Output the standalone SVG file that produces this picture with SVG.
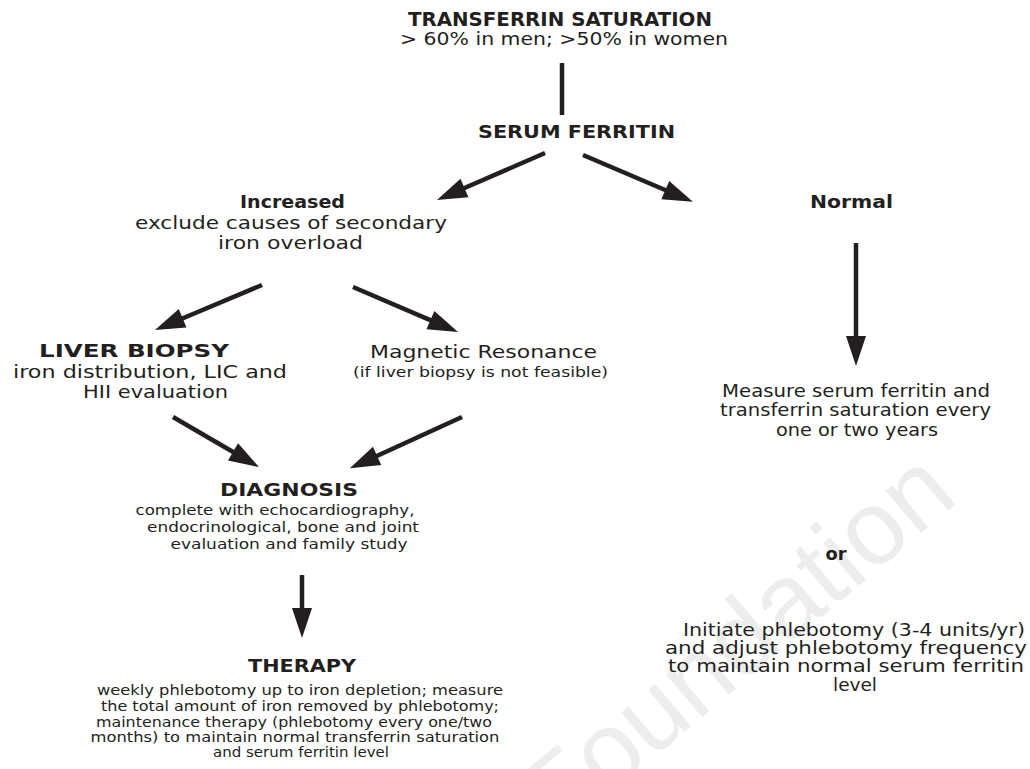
<svg xmlns="http://www.w3.org/2000/svg" width="1030" height="769" viewBox="0 0 1030 769">
<style>
text{font-family:"DejaVu Sans","Liberation Sans",sans-serif;fill:#231f20;text-anchor:middle}
.b{font-weight:bold;font-size:17px}
.r{font-size:18px}
.m{font-size:17px}
.s{font-size:14px}
.xs{font-size:14px}
.wm{font-family:"Liberation Sans",sans-serif;font-size:105px;fill:#ededed;text-anchor:start}
.c line{stroke:#231f20;stroke-width:4.5}
</style>
<defs>
<marker id="ah" markerUnits="userSpaceOnUse" markerWidth="32" markerHeight="22" viewBox="0 0 32 22" refX="11" refY="11" orient="auto">
<path d="M1,1 L31,11 L1,21 Z" fill="#231f20"/>
</marker>
</defs>
<rect width="1030" height="769" fill="#fff"/>
<text class="wm" transform="translate(558,838) rotate(-40)">Foundation</text>

<g class="c" id="connectors">
<line x1="562" y1="63" x2="562" y2="115"/>
<line x1="545" y1="153" x2="455.3" y2="192" marker-end="url(#ah)"/>
<line x1="583" y1="155" x2="674.5" y2="194" marker-end="url(#ah)"/>
<line x1="262" y1="285" x2="173.4" y2="322.2" marker-end="url(#ah)"/>
<line x1="353" y1="287" x2="439.6" y2="324.1" marker-end="url(#ah)"/>
<line x1="173" y1="417" x2="241.7" y2="457" marker-end="url(#ah)"/>
<line x1="462" y1="417" x2="368" y2="460" marker-end="url(#ah)"/>
<line x1="302" y1="575" x2="302" y2="618" marker-end="url(#ah)"/>
<line x1="856" y1="243" x2="856" y2="346" marker-end="url(#ah)"/>
</g>

<g id="transferrin">
<text class="b" x="560" y="26" style="font-size:19px" textLength="304" lengthAdjust="spacingAndGlyphs">TRANSFERRIN  SATURATION</text>
<text class="r" x="564" y="45" textLength="328" lengthAdjust="spacingAndGlyphs">&gt; 60% in men; &gt;50% in women</text>
</g>
<g id="serum-ferritin">
<text class="b" x="576.5" y="138" style="font-size:18px" textLength="197" lengthAdjust="spacingAndGlyphs">SERUM FERRITIN</text>
</g>
<g id="increased">
<text class="b" x="292.5" y="208" textLength="105" lengthAdjust="spacingAndGlyphs">Increased</text>
<text class="r" x="291" y="229" textLength="312" lengthAdjust="spacingAndGlyphs">exclude causes of secondary</text>
<text class="r" x="290.5" y="249" textLength="145" lengthAdjust="spacingAndGlyphs">iron overload</text>
</g>
<g id="normal">
<text class="b" x="851.5" y="208" textLength="83" lengthAdjust="spacingAndGlyphs">Normal</text>
</g>
<g id="liver-biopsy">
<text class="b" x="134" y="357" textLength="190" lengthAdjust="spacingAndGlyphs">LIVER BIOPSY</text>
<text class="r" x="150" y="378" textLength="274" lengthAdjust="spacingAndGlyphs">iron distribution, LIC and</text>
<text class="r" x="155.5" y="398" textLength="145" lengthAdjust="spacingAndGlyphs">HII evaluation</text>
</g>
<g id="magnetic-resonance">
<text class="r" x="483.5" y="358" textLength="227" lengthAdjust="spacingAndGlyphs">Magnetic Resonance</text>
<text class="xs" x="480.5" y="377" textLength="255" lengthAdjust="spacingAndGlyphs">(if liver biopsy is not feasible)</text>
</g>
<g id="measure">
<text class="m" x="856" y="397" textLength="268" lengthAdjust="spacingAndGlyphs">Measure serum ferritin and</text>
<text class="m" x="855.5" y="416" textLength="271" lengthAdjust="spacingAndGlyphs">transferrin saturation every</text>
<text class="m" x="857" y="436" textLength="162" lengthAdjust="spacingAndGlyphs">one or two years</text>
</g>
<g id="diagnosis">
<text class="b" x="289" y="496" textLength="138" lengthAdjust="spacingAndGlyphs">DIAGNOSIS</text>
<text class="s" x="275" y="515" textLength="279" lengthAdjust="spacingAndGlyphs">complete with echocardiography,</text>
<text class="s" x="283" y="532" textLength="272" lengthAdjust="spacingAndGlyphs">endocrinological, bone and joint</text>
<text class="s" x="289" y="549" textLength="237" lengthAdjust="spacingAndGlyphs">evaluation and family study</text>
</g>
<g id="or">
<text class="b" x="836" y="560" textLength="21" lengthAdjust="spacingAndGlyphs">or</text>
</g>
<g id="therapy">
<text class="b" x="302" y="672" textLength="108" lengthAdjust="spacingAndGlyphs">THERAPY</text>
<text class="s" x="300" y="695" textLength="406" lengthAdjust="spacingAndGlyphs">weekly phlebotomy up to iron depletion; measure</text>
<text class="s" x="300" y="711" textLength="398" lengthAdjust="spacingAndGlyphs">the total amount of iron removed by phlebotomy;</text>
<text class="s" x="294" y="727" textLength="396" lengthAdjust="spacingAndGlyphs">maintenance therapy (phlebotomy every one/two</text>
<text class="s" x="295" y="742" textLength="409" lengthAdjust="spacingAndGlyphs">months) to maintain normal transferrin saturation</text>
<text class="s" x="301" y="757" textLength="176" lengthAdjust="spacingAndGlyphs">and  serum ferritin level</text>
</g>
<g id="initiate">
<text class="m" x="854" y="636" textLength="342" lengthAdjust="spacingAndGlyphs">Initiate phlebotomy (3-4 units/yr)</text>
<text class="m" x="846" y="654" textLength="362" lengthAdjust="spacingAndGlyphs">and adjust phlebotomy frequency</text>
<text class="m" x="846" y="672" textLength="356" lengthAdjust="spacingAndGlyphs">to maintain normal serum ferritin</text>
<text class="m" x="855" y="691" textLength="44" lengthAdjust="spacingAndGlyphs">level</text>
</g>
</svg>
